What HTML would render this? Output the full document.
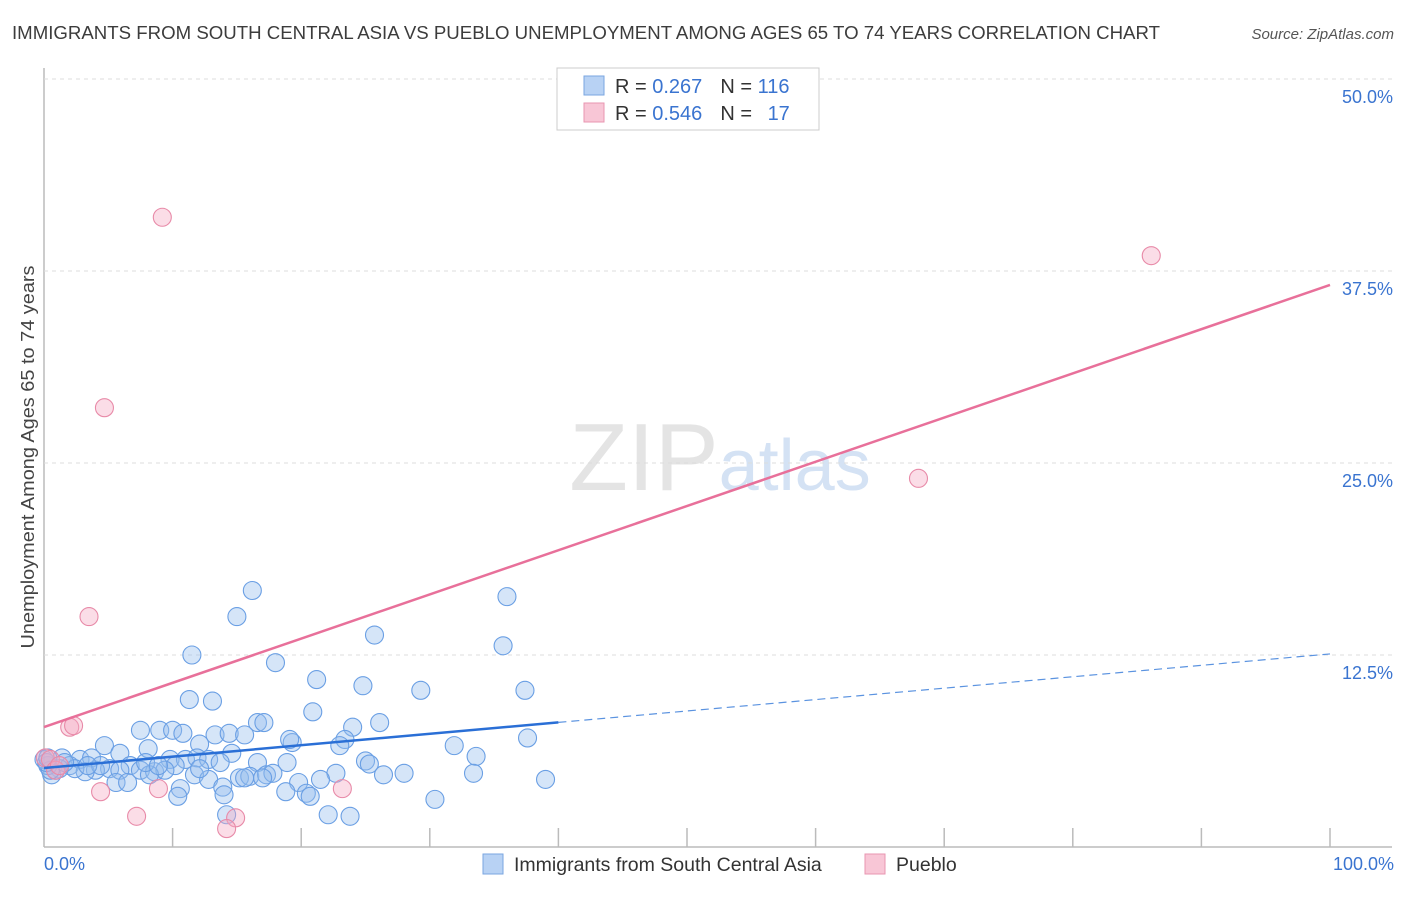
<!DOCTYPE html>
<html><head><meta charset="utf-8"><style>
body{margin:0;background:#fff;font-family:"Liberation Sans",sans-serif;}
svg text{font-family:"Liberation Sans",sans-serif;}
</style></head><body>
<svg id="chart" width="1406" height="892" xmlns="http://www.w3.org/2000/svg">
<text x="12" y="39" font-size="18.5" fill="#3c3c3c" textLength="1148" lengthAdjust="spacingAndGlyphs">IMMIGRANTS FROM SOUTH CENTRAL ASIA VS PUEBLO UNEMPLOYMENT AMONG AGES 65 TO 74 YEARS CORRELATION CHART</text>
<text x="1394" y="39" font-size="15" fill="#555" font-style="italic" text-anchor="end">Source: ZipAtlas.com</text>
<text x="720" y="490" font-size="96" text-anchor="middle" fill="#e4e4e4" font-family="Liberation Serif">ZIP<tspan fill="#d4e2f4" font-family="Liberation Sans" font-size="72">atlas</tspan></text>
<text transform="translate(34,457) rotate(-90)" font-size="18.5" fill="#444" text-anchor="middle" textLength="383" lengthAdjust="spacingAndGlyphs">Unemployment Among Ages 65 to 74 years</text>
<g id="grid"></g><g id="marks"></g>
<g>
<rect x="557" y="68" width="262" height="62" fill="#fff" stroke="#ccc"/>
<rect x="584" y="76" width="20" height="19" fill="#b8d2f4" stroke="#7aa6e0"/>
<rect x="584" y="103" width="20" height="19" fill="#f8c6d6" stroke="#e896b0"/>
<text x="615" y="93" font-size="20" fill="#333">R = <tspan fill="#3a74d0">0.267</tspan><tspan dx="18">N = </tspan><tspan fill="#3a74d0">116</tspan></text>
<text x="615" y="120" font-size="20" fill="#333">R = <tspan fill="#3a74d0">0.546</tspan><tspan dx="18">N = </tspan><tspan fill="#3a74d0" dx="10">17</tspan></text>
</g>
<g>
<rect x="483" y="854" width="20" height="20" fill="#b8d2f4" stroke="#7aa6e0"/>
<text x="514" y="871" font-size="19.5" fill="#333">Immigrants from South Central Asia</text>
<rect x="865" y="854" width="20" height="20" fill="#f8c6d6" stroke="#e896b0"/>
<text x="896" y="871" font-size="19.5" fill="#333">Pueblo</text>
</g>
</svg>
<script>
const yTicks=[12.5,25,37.5,50];
const yTickLabels=["12.5%","25.0%","37.5%","50.0%"];
const xTicks=[10,20,30,40,50,60,70,80,90,100];
const blueX=[16.2,15.0,36.0,25.7,35.7,11.5,18.0,21.2,24.8,29.3,37.4,11.3,13.1,20.9,16.6,17.1,24.0,26.1,7.5,9.0,10.0,10.8,13.3,14.4,15.6,37.6,23.4,19.3,19.1,31.9,4.7,8.1,12.1,14.6,23.0,33.6,25.0,25.3,18.9,16.6,5.9,2.8,3.7,1.4,2.0,9.8,11.0,11.9,12.8,13.7,10.2,6.7,5.1,7.5,8.6,9.4,8.2,5.9,4.0,3.2,1.2,0.6,0.9,11.7,15.2,16.0,17.3,17.8,22.7,28.0,26.4,33.4,39.0,5.6,6.5,12.8,13.9,15.6,19.8,21.5,20.4,18.8,10.6,10.4,14.0,20.7,22.1,23.8,30.4,14.2,2.4,4.4,1.6,0.3,0.0,0.5,3.4,7.9,8.9,12.1,17.0,0.2,0.3];
const blueY=[16.7,15.0,16.3,13.8,13.1,12.5,12.0,10.9,10.5,10.2,10.2,9.6,9.5,8.8,8.1,8.1,7.8,8.1,7.6,7.6,7.6,7.4,7.3,7.4,7.3,7.1,7.0,6.8,7.0,6.6,6.6,6.4,6.7,6.1,6.6,5.9,5.6,5.4,5.5,5.5,6.1,5.7,5.8,5.8,5.3,5.7,5.7,5.8,5.7,5.5,5.3,5.3,5.1,5.0,4.9,5.0,4.7,5.0,5.0,4.9,5.1,4.7,5.0,4.7,4.5,4.6,4.7,4.8,4.8,4.8,4.7,4.8,4.4,4.2,4.2,4.4,3.9,4.5,4.2,4.4,3.5,3.6,3.8,3.3,3.4,3.3,2.1,2.0,3.1,2.1,5.1,5.3,5.5,5.3,5.7,5.0,5.3,5.5,5.3,5.1,4.5,5.5,5.8];
const pinkX=[9.2,86.1,4.7,68.0,3.5,2.0,2.3,0.1,0.5,0.9,1.2,4.4,8.9,23.2,7.2,14.9,14.2];
const pinkY=[41.0,38.5,28.6,24.0,15.0,7.8,7.9,5.8,5.7,5.0,5.3,3.6,3.8,3.8,2.0,1.9,1.2];
const blueLine=[5.14,12.57];
const blueSolidEnd=40;
const pinkLine=[7.81,36.59];

const X0=44,X1=1330,Y0=847,PY=192/12.5;
function sx(v){return X0+(X1-X0)*v/100;}
function sy(v){return Y0-v*PY;}
const NS="http://www.w3.org/2000/svg";
function mk(tag,attrs,parent){const e=document.createElementNS(NS,tag);for(const k in attrs)e.setAttribute(k,attrs[k]);parent.appendChild(e);return e;}
const grid=document.getElementById('grid'),marks=document.getElementById('marks');
const yAxis=mk('line',{x1:X0,y1:68,x2:X0,y2:Y0,stroke:'#bbb','stroke-width':1.5},grid);


const xAxis=mk('line',{x1:X0,y1:Y0,x2:1392,y2:Y0,stroke:'#bbb','stroke-width':1.5},grid);


yTicks.forEach((t,i)=>{
 const g=mk('line',{x1:X0,y1:sy(t),x2:1392,y2:sy(t),stroke:'#ddd','stroke-dasharray':'4,4'},grid);
 
 
 const l=mk('text',{x:1393,y:sy(t)+24,'font-size':18,fill:'#3a74d0','text-anchor':'end'},grid);
 l.textContent=yTickLabels[i];
 
 
});
xTicks.forEach(t=>{
 const k=mk('line',{x1:sx(t),y1:828,x2:sx(t),y2:Y0,stroke:'#bbb','stroke-width':1.5},grid);
 
 
});
const xl0=mk('text',{x:44,y:870,'font-size':18,fill:'#3a74d0'},grid);xl0.textContent='0.0%';


const xl1=mk('text',{x:1394,y:870,'font-size':18,fill:'#3a74d0','text-anchor':'end'},grid);xl1.textContent='100.0%';


blueX.forEach((x,i)=>{
 const c=mk('circle',{cx:sx(x),cy:sy(blueY[i]),r:9,fill:'rgba(150,190,238,0.4)',stroke:'#6a9fe4','stroke-width':1.1},marks);
 
 
});
pinkX.forEach((x,i)=>{
 const c=mk('circle',{cx:sx(x),cy:sy(pinkY[i]),r:9,fill:'rgba(244,170,195,0.4)',stroke:'#e88aa8','stroke-width':1.1},marks);
 
 
});
const by=x=>blueLine[0]+(blueLine[1]-blueLine[0])*x/100;
const bs=mk('line',{x1:sx(0),y1:sy(by(0)),x2:sx(blueSolidEnd),y2:sy(by(blueSolidEnd)),stroke:'#2a6fd6','stroke-width':2.5},marks);


const bd=mk('line',{x1:sx(blueSolidEnd),y1:sy(by(blueSolidEnd)),x2:sx(100),y2:sy(by(100)),stroke:'#5b93e0','stroke-width':1.2,'stroke-dasharray':'8,5'},marks);


const pl=mk('line',{x1:sx(0),y1:sy(pinkLine[0]),x2:sx(100),y2:sy(pinkLine[1]),stroke:'#e8709a','stroke-width':2.5},marks);


</script>
</body></html>
